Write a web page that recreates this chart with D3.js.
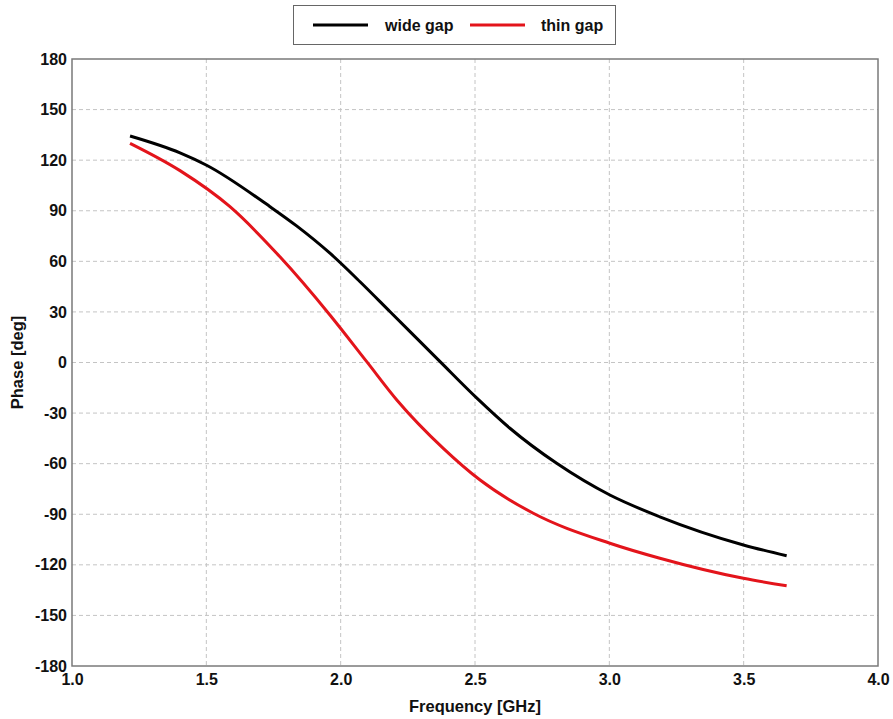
<!DOCTYPE html>
<html><head><meta charset="utf-8">
<script src="https://cdn.jsdelivr.net/npm/d3@7"></script>
<style>body{margin:0;background:#fff;} svg{display:block;font-family:Arial,"Liberation Sans",sans-serif;}</style>
</head><body>
<svg id="c" width="893" height="719"></svg>
<script>
const seriesNames = ["wide gap", "thin gap"];
const seriesColors = ["#000000", "#e3141b"];
const wideFreq = [1.216,1.402,1.501,1.737,1.836,1.960,2.072,2.184,2.370,2.506,2.630,2.804,3.002,3.188,3.499,3.660];
const widePhase = [134.3,124.3,117.0,92.4,81.0,64.8,47.9,30.1,0.5,-21.0,-39.0,-59.8,-78.6,-91.5,-108.2,-114.6];
const thinFreq = [1.216,1.402,1.588,1.774,1.960,2.097,2.209,2.382,2.519,2.717,3.002,3.188,3.499,3.660];
const thinPhase = [130.0,113.8,92.4,62.7,28.2,0.5,-22.2,-50.9,-69.7,-89.4,-107.2,-116.1,-128.0,-132.4];
const xTicks = [1.0,1.5,2.0,2.5,3.0,3.5,4.0];
const yTicks = [-180,-150,-120,-90,-60,-30,0,30,60,90,120,150,180];

const svg = d3.select("#c");
const L = 72, R = 878, T = 59, B = 666;
const x = d3.scaleLinear().domain([1,4]).range([L,R]);
const y = d3.scaleLinear().domain([-180,180]).range([B,T]);

// grid
const g = svg.append("g");
g.selectAll(".vg").data(xTicks.slice(1,-1)).enter().append("line")
  .attr("x1",d=>x(d)).attr("x2",d=>x(d)).attr("y1",T).attr("y2",B)
  .attr("stroke","#c4c4c4").attr("stroke-width",1).attr("stroke-dasharray","4,3");
g.selectAll(".hg").data(yTicks.slice(1,-1)).enter().append("line")
  .attr("y1",d=>y(d)).attr("y2",d=>y(d)).attr("x1",L).attr("x2",R)
  .attr("stroke","#c4c4c4").attr("stroke-width",1).attr("stroke-dasharray","4,3");

// frame
svg.append("rect").attr("x",L).attr("y",T).attr("width",R-L).attr("height",B-T)
  .attr("fill","none").attr("stroke","#7a7a7a").attr("stroke-width",1.5);

// axes
const xAxis = d3.axisBottom(x).tickValues(xTicks).tickFormat(d3.format(".1f")).tickSize(0).tickPadding(8);
const xa = svg.append("g").attr("transform",`translate(0,${B})`).call(xAxis);
xa.select(".domain").remove();
xa.selectAll("text").attr("font-size",16).attr("font-weight","bold").attr("fill","#111")
  .attr("font-family","Arial, 'Liberation Sans', sans-serif");
const yAxis = d3.axisLeft(y).tickValues(yTicks).tickFormat(d=>String(d)).tickSize(0).tickPadding(5);
const ya = svg.append("g").attr("transform",`translate(${L},0)`).call(yAxis);
ya.select(".domain").remove();
ya.selectAll("text").attr("font-size",16).attr("font-weight","bold").attr("fill","#111")
  .attr("font-family","Arial, 'Liberation Sans', sans-serif");

// titles
svg.append("text").attr("x",(L+R)/2).attr("y",712).attr("text-anchor","middle")
  .attr("font-size",16.5).attr("font-weight","bold").attr("fill","#111").text("Frequency [GHz]");
svg.append("text").attr("transform",`translate(23,${(T+B)/2}) rotate(-90)`).attr("text-anchor","middle")
  .attr("font-size",16.5).attr("font-weight","bold").attr("fill","#111").text("Phase [deg]");

// lines
const line = d3.line().x(d=>x(d[0])).y(d=>y(d[1])).curve(d3.curveMonotoneX);
const data = [d3.zip(wideFreq,widePhase), d3.zip(thinFreq,thinPhase)];
data.forEach((d,i)=>{
  svg.append("path").datum(d).attr("d",line).attr("fill","none")
    .attr("stroke",seriesColors[i]).attr("stroke-width",3).attr("stroke-linejoin","round");
});

// legend
const lg = svg.append("g");
lg.append("rect").attr("x",293.5).attr("y",5.5).attr("width",322).attr("height",39)
  .attr("fill","#fff").attr("stroke","#666").attr("stroke-width",1);
const lx = [313, 470], tx = [385, 541];
seriesNames.forEach((n,i)=>{
  lg.append("line").attr("x1",lx[i]).attr("x2",lx[i]+55).attr("y1",25).attr("y2",25)
    .attr("stroke",seriesColors[i]).attr("stroke-width",3);
  lg.append("text").attr("x",tx[i]).attr("y",31).attr("font-size",16).attr("font-weight","bold")
    .attr("fill","#111").text(n);
});
</script>
</body></html>
